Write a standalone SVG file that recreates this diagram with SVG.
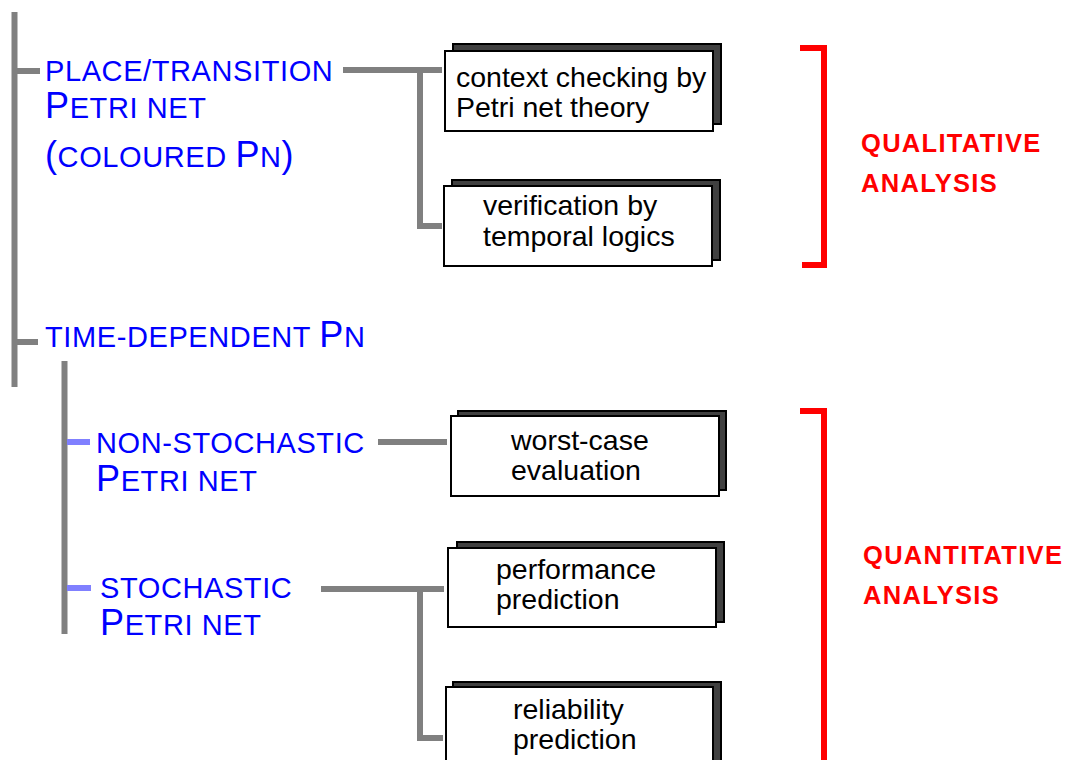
<svg xmlns="http://www.w3.org/2000/svg" width="1069" height="760" viewBox="0 0 1069 760">
<style>
.bar{stroke:#808080;stroke-width:6;fill:none}
.tick{stroke:#8080ff;stroke-width:6;fill:none}
.red{stroke:#ff0000;stroke-width:6;fill:none}
.shadow{fill:#404040;stroke:#000;stroke-width:2}
.box{fill:#fff;stroke:#000;stroke-width:2}
.bl{font-family:"Liberation Sans",Arial,sans-serif;fill:#0000ff;font-size:29px;letter-spacing:0.6px}
.big{font-size:36px}
.tx{font-family:"Liberation Sans",Arial,sans-serif;fill:#000;font-size:28.5px}
.rt{font-family:"Liberation Sans",Arial,sans-serif;fill:#ff0000;font-size:25.5px;font-weight:bold;letter-spacing:1.3px}
</style>
<rect width="1069" height="760" fill="#fff"/>
<g id="connectors">
<path class="bar" d="M14.5 12 V387"/>
<path class="bar" d="M17 71 H40"/>
<path class="bar" d="M17 342 H38"/>
<path class="bar" d="M64.5 361 V634"/>
<path class="tick" d="M67 442 H90"/>
<path class="tick" d="M67 588 H91"/>
<path class="bar" d="M343 70 H442 M420 70 V226 H442"/>
<path class="bar" d="M378 442 H447"/>
<path class="bar" d="M321 589 H444 M420 589 V738 H443"/>
</g>
<g id="place-transition">
<text class="bl" x="45" y="81">PLACE/TRANSITION</text>
<text class="bl" x="45" y="118"><tspan class="big">P</tspan>ETRI NET</text>
<text class="bl" x="45" y="167"><tspan class="big">(</tspan>COLOURED <tspan class="big">P</tspan>N<tspan class="big">)</tspan></text>
</g>
<g id="time-dependent">
<text class="bl" x="45" y="347">TIME-DEPENDENT <tspan class="big">P</tspan>N</text>
</g>
<g id="non-stochastic">
<text class="bl" x="96" y="453">NON-STOCHASTIC</text>
<text class="bl" x="96" y="491"><tspan class="big">P</tspan>ETRI NET</text>
</g>
<g id="stochastic">
<text class="bl" x="100" y="598">STOCHASTIC</text>
<text class="bl" x="100" y="635"><tspan class="big">P</tspan>ETRI NET</text>
</g>
<g id="context-checking">
<rect class="shadow" x="453" y="44" width="268" height="80"/>
<rect class="box" x="445" y="51" width="268" height="80"/>
<text class="tx" x="456" y="87">context checking by</text>
<text class="tx" x="456" y="117">Petri net theory</text>
</g>
<g id="verification">
<rect class="shadow" x="452" y="180" width="268" height="80"/>
<rect class="box" x="444" y="186" width="268" height="80"/>
<text class="tx" x="483" y="215">verification by</text>
<text class="tx" x="483" y="246">temporal logics</text>
</g>
<g id="worst-case">
<rect class="shadow" x="458" y="411" width="268" height="79"/>
<rect class="box" x="451" y="416" width="268" height="80"/>
<text class="tx" x="511" y="450">worst-case</text>
<text class="tx" x="511" y="480">evaluation</text>
</g>
<g id="performance">
<rect class="shadow" x="457" y="542" width="267" height="80"/>
<rect class="box" x="448" y="548" width="268" height="79"/>
<text class="tx" x="496" y="579">performance</text>
<text class="tx" x="496" y="609">prediction</text>
</g>
<g id="reliability">
<rect class="shadow" x="453" y="682" width="268" height="100"/>
<rect class="box" x="446" y="687" width="267" height="100"/>
<text class="tx" x="513" y="719">reliability</text>
<text class="tx" x="513" y="749">prediction</text>
</g>
<g id="qualitative">
<path class="red" d="M800 48 H824 V265 H802"/>
<text class="rt" x="861" y="152">QUALITATIVE</text>
<text class="rt" x="861" y="192">ANALYSIS</text>
</g>
<g id="quantitative">
<path class="red" d="M800 411 H824 V760"/>
<text class="rt" x="863" y="564">QUANTITATIVE</text>
<text class="rt" x="863" y="604">ANALYSIS</text>
</g>
</svg>
